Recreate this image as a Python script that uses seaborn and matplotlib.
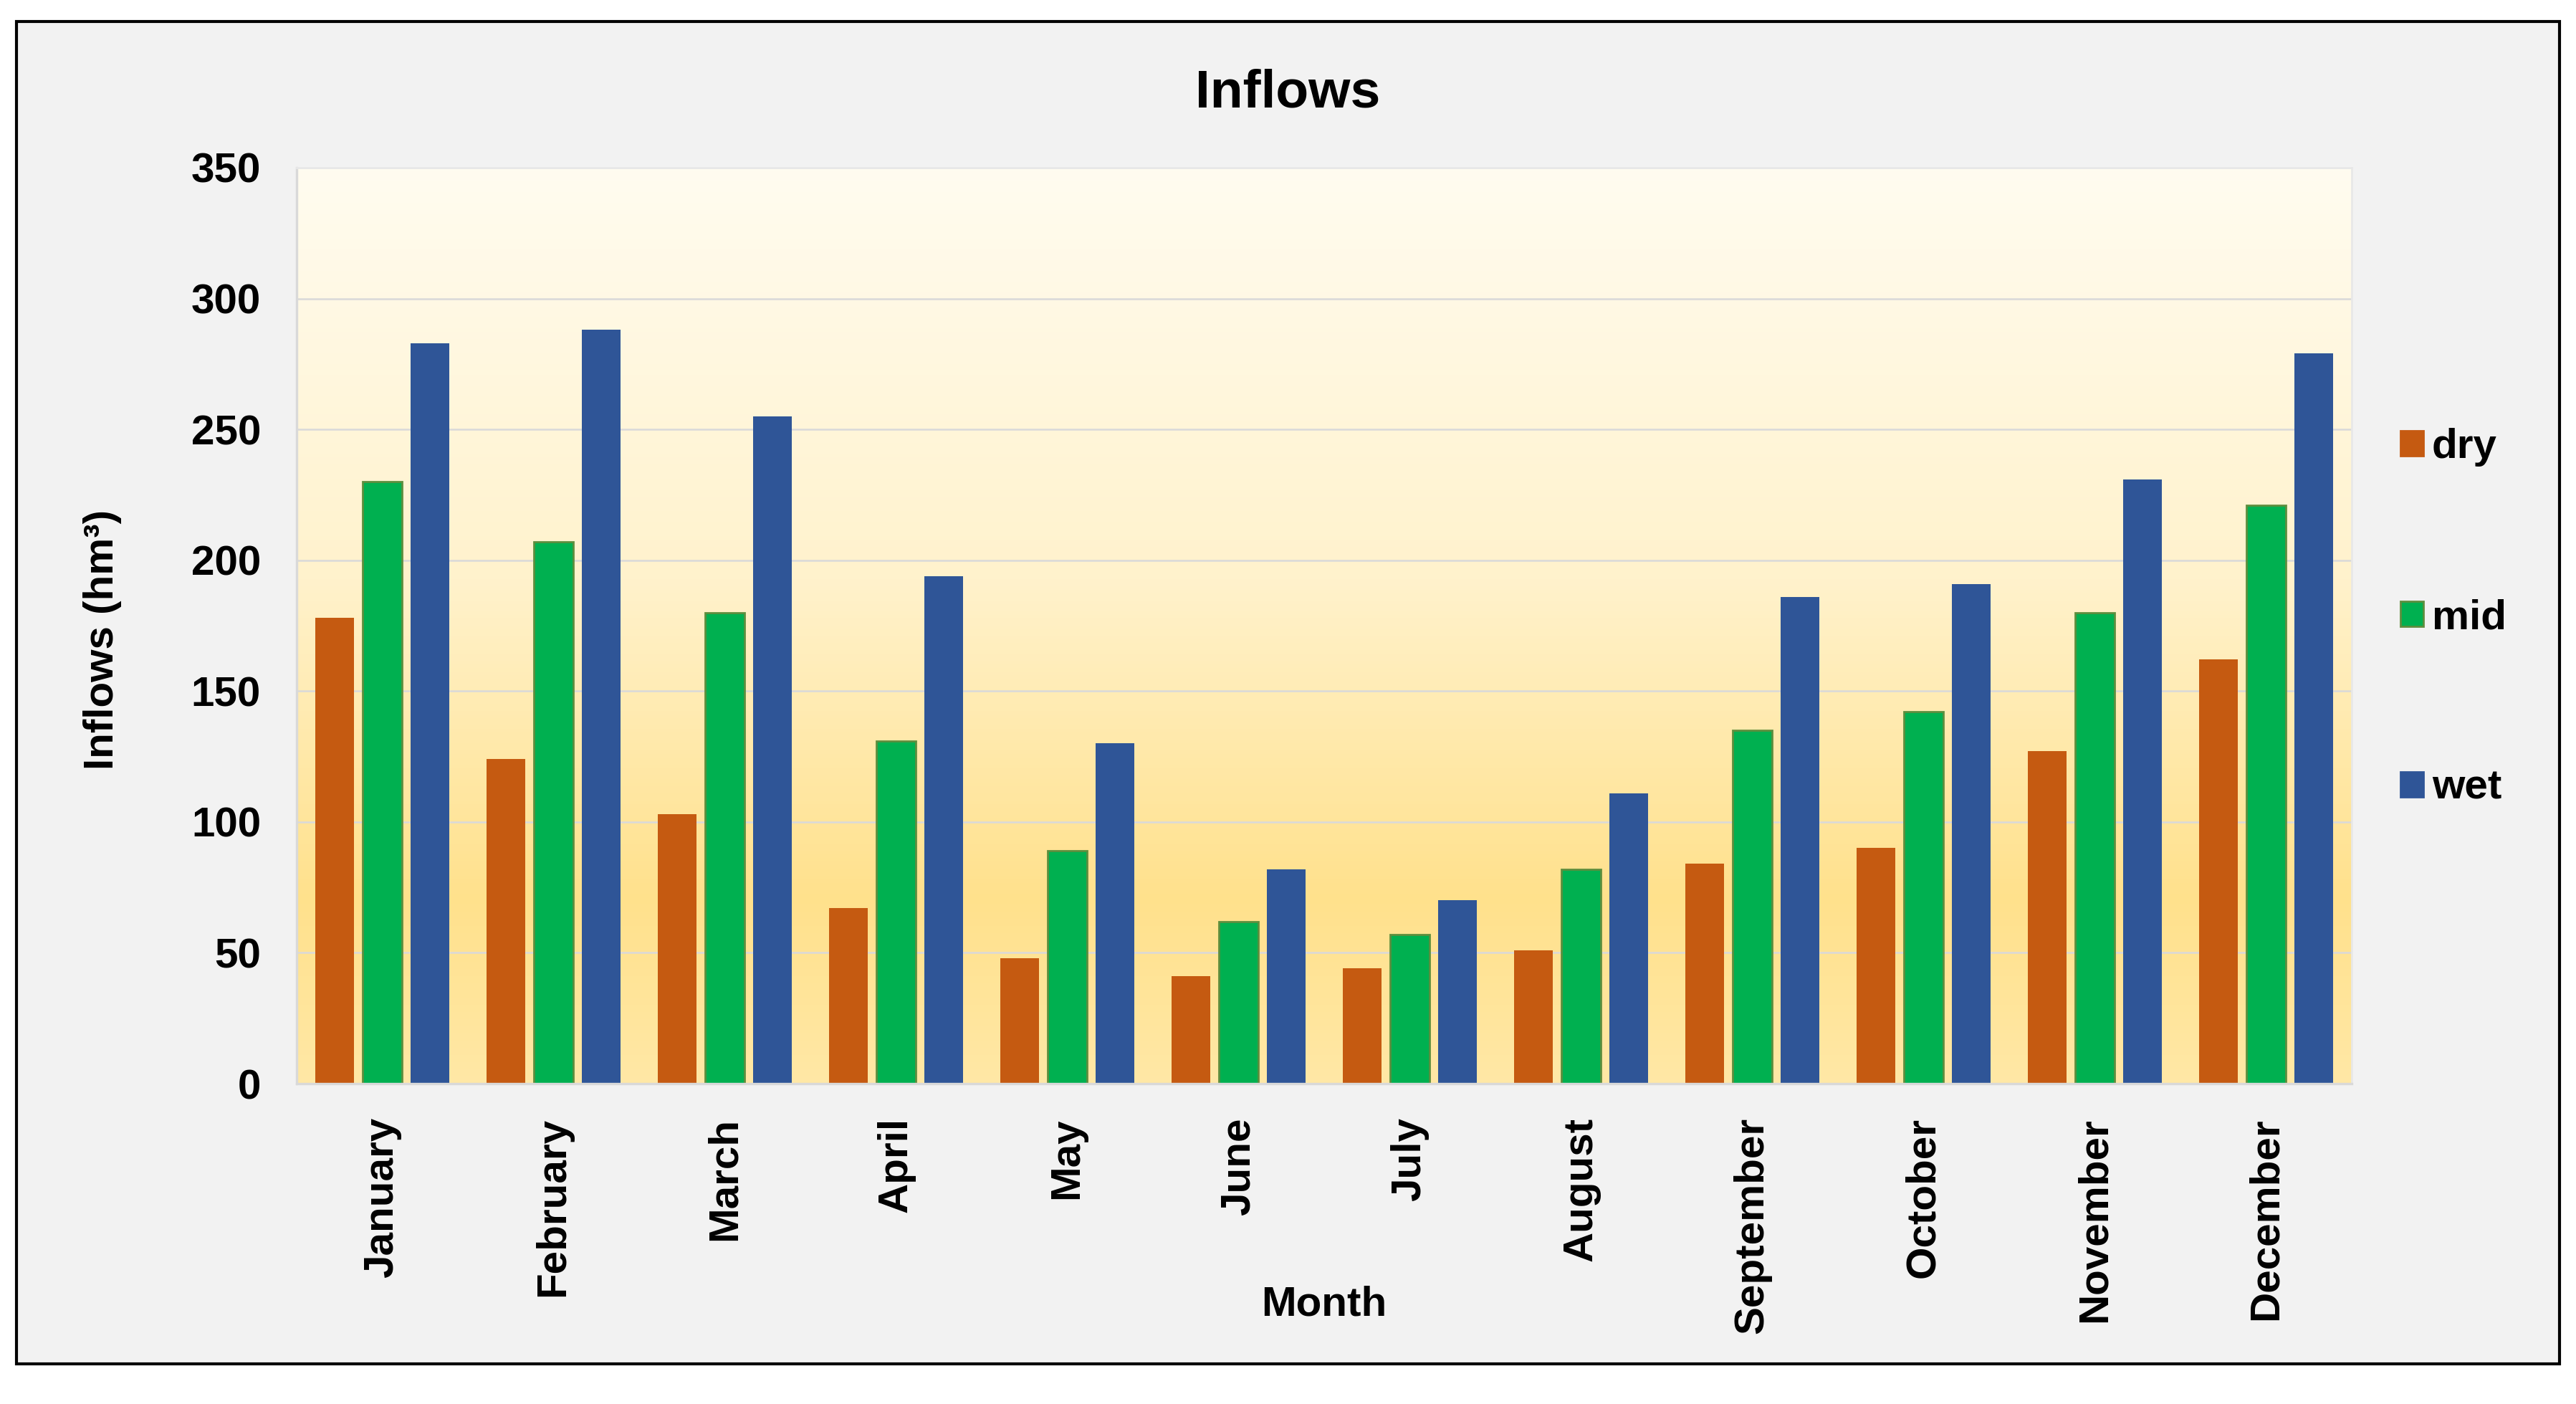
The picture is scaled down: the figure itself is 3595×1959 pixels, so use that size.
import numpy as np
import pandas as pd
import matplotlib
matplotlib.use("Agg")
import matplotlib.pyplot as plt
from matplotlib.patches import Rectangle, Patch
from matplotlib.colors import LinearSegmentedColormap
import seaborn as sns

# ---- data ----
months = ["January", "February", "March", "April", "May", "June",
          "July", "August", "September", "October", "November", "December"]
dry = [178, 124, 103, 67, 48, 41, 44, 51, 84, 90, 127, 162]
mid = [230, 207, 180, 131, 89, 62, 57, 82, 135, 142, 180, 221]
wet = [283, 288, 255, 194, 130, 82, 70, 111, 186, 191, 231, 279]
scenarios = ["dry", "mid", "wet"]
yticks = [0, 50, 100, 150, 200, 250, 300, 350]

colors = {"dry": "#C55A11", "mid": "#00B050", "wet": "#2F5597"}
mid_edge = "#5E8E3E"

df = pd.DataFrame({"Month": months, "dry": dry, "mid": mid, "wet": wet})
df = df.melt(id_vars="Month", value_vars=scenarios, var_name="Scenario", value_name="Inflow")

sns.set_theme(style="white")
plt.rcParams["font.family"] = ["Liberation Sans", "DejaVu Sans"]
plt.rcParams["font.weight"] = "bold"
plt.rcParams["text.color"] = "black"
plt.rcParams["axes.labelcolor"] = "black"
plt.rcParams["xtick.color"] = "black"
plt.rcParams["ytick.color"] = "black"

W, H = 3595, 1959
fig = plt.figure(figsize=(W / 200, H / 200), dpi=200, facecolor="white")

# outer frame
fig.patches.append(Rectangle((23 / W, 1 - 1903 / H), (3572 - 23) / W, (1903 - 30) / H,
                             transform=fig.transFigure, facecolor="#F2F2F2",
                             edgecolor="black", lw=1.5, zorder=-5))

ax = fig.add_axes([414 / W, 1 - 1512 / H, 2868 / W, 1278 / H])
ax.set_facecolor("none")

# gradient background of plot area
cmap = LinearSegmentedColormap.from_list(
    "bg", [(0.0, "#FFE8A6"), (0.2, "#FFE18C"), (0.55, "#FFF2CC"), (1.0, "#FFFCF0")])
grad = np.linspace(0, 1, 256).reshape(-1, 1)
ax.imshow(grad, cmap=cmap, origin="lower", aspect="auto",
          extent=[0, 1, 0, 1], transform=ax.transAxes, zorder=0)

sns.barplot(data=df, x="Month", y="Inflow", hue="Scenario", hue_order=scenarios,
            order=months, palette=colors, saturation=1, width=0.837, gap=0.19,
            ax=ax, legend=False, zorder=2, linewidth=0)

for bar in ax.containers[1]:
    bar.set_edgecolor(mid_edge)
    bar.set_linewidth(1.0)

ax.set_xlim(-0.5, len(months) - 0.5)
ax.set_ylim(0, 350)
ax.set_yticks(yticks)
ax.set_yticklabels([str(v) for v in yticks], fontsize=21, fontweight="bold", color="black")
ax.set_xticks(range(len(months)))
ax.set_xticklabels(months, rotation=90, fontsize=21, fontweight="bold", color="black")
ax.tick_params(axis="both", length=0)
ax.tick_params(axis="y", pad=18)
ax.tick_params(axis="x", pad=17)

ax.set_axisbelow(True)
ax.yaxis.grid(True, color="#D9D9D9", lw=0.9, zorder=1)
ax.xaxis.grid(False)
for side in ["left", "bottom"]:
    ax.spines[side].set_color("#D9D9D9")
    ax.spines[side].set_linewidth(1.2)
for side in ["top", "right"]:
    ax.spines[side].set_color("#E8E8E8")
    ax.spines[side].set_linewidth(1.0)

ax.set_xlabel("Month", fontsize=21, fontweight="bold", va="center", color="black")
ax.xaxis.set_label_coords(0.5, (1512 - 1820) / 1278)
ax.set_ylabel("Inflows (hm³)", fontsize=21, fontweight="bold", va="center", color="black")
ax.yaxis.set_label_coords((143 - 414) / 2868, 0.485)

fig.text(0.5, 1 - 130 / H, "Inflows", ha="center", va="center",
         fontsize=27, fontweight="bold", color="black")

handles = [Patch(facecolor=colors[s], edgecolor=(mid_edge if s == "mid" else colors[s]),
                 label=s) for s in scenarios]
leg = fig.legend(handles=handles, loc="center left", bbox_to_anchor=(3327 / W, 1 - 862 / H),
                 frameon=False, fontsize=21, handlelength=0.55, handleheight=0.55,
                 handletextpad=0.2, labelspacing=3.15, borderaxespad=0)
for t in leg.get_texts():
    t.set_fontweight("bold")
    t.set_color("black")

fig.savefig("out.png", dpi=200, facecolor="white")
